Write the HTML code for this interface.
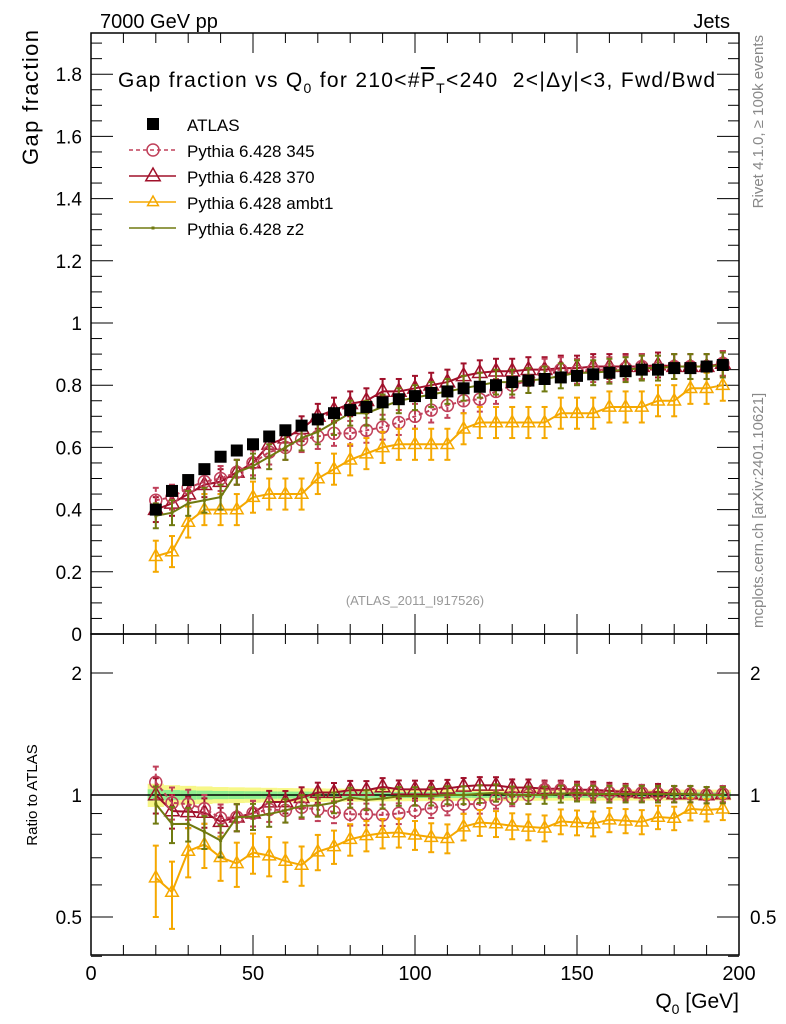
<!DOCTYPE html>
<html><head><meta charset="utf-8"><style>
body{margin:0;background:#fff;}
svg{display:block;font-family:"Liberation Sans",sans-serif;}
</style></head><body>
<svg id="c" width="786" height="1024" xmlns="http://www.w3.org/2000/svg">
<text x="100" y="28" font-size="20">7000 GeV pp</text>
<text x="730" y="28" font-size="20" text-anchor="end">Jets</text>
<text x="118" y="87" font-size="21" textLength="597" lengthAdjust="spacing" xml:space="preserve">Gap fraction vs Q<tspan font-size="14" dy="6">0</tspan><tspan dy="-6"> for 210&lt;#</tspan><tspan text-decoration="overline">P</tspan><tspan font-size="14" dy="6">T</tspan><tspan dy="-6">&lt;240  2&lt;|Δy|&lt;3, Fwd/Bwd</tspan></text>
<text transform="translate(38,30) rotate(-90)" font-size="22" textLength="135" text-anchor="end">Gap fraction</text>
<text transform="translate(37,795) rotate(-90)" font-size="15" text-anchor="middle">Ratio to ATLAS</text>
<text x="739" y="1008" font-size="21" text-anchor="end">Q<tspan font-size="14" dy="6">0</tspan><tspan dy="-6"> [GeV]</tspan></text>
<text transform="translate(763,35) rotate(-90)" font-size="15" fill="#888" text-anchor="end">Rivet 4.1.0, ≥ 100k events</text>
<text transform="translate(763,628) rotate(-90)" font-size="15" fill="#888">mcplots.cern.ch [arXiv:2401.10621]</text>
<text x="415" y="605" font-size="13" fill="#999" text-anchor="middle">(ATLAS_2011_I917526)</text>
<g id="plot"></g>
<g id="legend"></g>
</svg>
<script>
const xs=[20,25,30,35,40,45,50,55,60,65,70,75,80,85,90,95,100,105,110,115,120,125,130,135,140,145,150,155,160,165,170,175,180,185,190,195];
const atlas=[0.40,0.46,0.495,0.53,0.57,0.59,0.61,0.635,0.655,0.67,0.69,0.71,0.72,0.73,0.745,0.755,0.765,0.775,0.78,0.79,0.795,0.80,0.81,0.815,0.82,0.825,0.83,0.835,0.84,0.845,0.85,0.85,0.855,0.855,0.86,0.865];
const p345=[0.43,0.44,0.47,0.49,0.50,0.52,0.55,0.585,0.60,0.625,0.635,0.645,0.645,0.655,0.665,0.68,0.70,0.72,0.735,0.75,0.755,0.78,0.80,0.815,0.845,0.85,0.845,0.85,0.85,0.855,0.86,0.855,0.86,0.86,0.86,0.87];
const p370=[0.40,0.42,0.45,0.48,0.49,0.52,0.55,0.61,0.63,0.66,0.70,0.72,0.74,0.75,0.78,0.78,0.79,0.80,0.81,0.83,0.84,0.845,0.845,0.85,0.85,0.855,0.855,0.86,0.86,0.86,0.86,0.865,0.86,0.86,0.86,0.87];
const ambt1=[0.25,0.265,0.36,0.40,0.40,0.40,0.44,0.45,0.45,0.45,0.50,0.53,0.56,0.58,0.60,0.61,0.61,0.61,0.61,0.66,0.68,0.68,0.68,0.68,0.68,0.71,0.71,0.71,0.73,0.73,0.73,0.75,0.75,0.79,0.79,0.80];
const z2=[0.38,0.39,0.42,0.43,0.44,0.52,0.54,0.57,0.60,0.63,0.65,0.68,0.71,0.71,0.73,0.75,0.76,0.77,0.78,0.79,0.80,0.81,0.81,0.815,0.82,0.83,0.84,0.84,0.845,0.85,0.855,0.855,0.86,0.86,0.86,0.865];
const mcErr=0.04, ambtErr=0.05, dataErr=0.012;
const xTicks=[0,50,100,150,200];
const yTicks=[0,0.2,0.4,0.6,0.8,1,1.2,1.4,1.6,1.8];
const rTicks=[0.5,1,2];

const NS="http://www.w3.org/2000/svg";
const L=91,R=739,T=33,MB=634,RB=955;
const X=v=>L+(R-L)*v/200;
const Y=v=>634-311*v;
const RY=v=>795-122*Math.log2(v);
const g=document.getElementById('plot');
function el(t,a,p){const e=document.createElementNS(NS,t);for(const k in a)e.setAttribute(k,a[k]);(p||g).appendChild(e);return e;}

for(let i=0;i<xs.length;i++){
  const x0=X(xs[i]-2.5),w=X(5)-X(0);
  const rel=dataErr/atlas[i];
  const yb=el('rect',{x:x0,y:RY(1+2.2*rel),width:w,height:RY(1-2.2*rel)-RY(1+2.2*rel),fill:'#f5f56a',opacity:0.8});
  
  
  const gb=el('rect',{x:x0,y:RY(1+1.1*rel),width:w,height:RY(1-1.1*rel)-RY(1+1.1*rel),fill:'#8eee8e'});
  
  
}
const one=el('line',{x1:L,x2:R,y1:RY(1),y2:RY(1),stroke:'#000','stroke-width':1.5});



el('rect',{x:L,y:T,width:R-L,height:MB-T,fill:'none',stroke:'#000','stroke-width':1.5});
el('rect',{x:L,y:MB,width:R-L,height:RB-MB,fill:'none',stroke:'#000','stroke-width':1.5});
for(let v=0;v<=200;v+=10){
  const big=v%50===0,len=big?20:10;
  el('line',{x1:X(v),x2:X(v),y1:MB,y2:MB-len,stroke:'#000'});
  el('line',{x1:X(v),x2:X(v),y1:T,y2:T+len,stroke:'#000'});
  el('line',{x1:X(v),x2:X(v),y1:RB,y2:RB-len,stroke:'#000'});
  el('line',{x1:X(v),x2:X(v),y1:MB,y2:MB+len,stroke:'#000'});
}
xTicks.forEach(v=>{const t=el('text',{x:X(v),y:980,'font-size':20,'text-anchor':'middle'});t.textContent=v;

});
for(let k=0;k<=38;k++){const v=k*0.05;const y=Y(v);if(y<T)continue;const big=k%4===0,len=big?22:11;
  el('line',{x1:L,x2:L+len,y1:y,y2:y,stroke:'#000'});el('line',{x1:R,x2:R-len,y1:y,y2:y,stroke:'#000'});}
yTicks.forEach(v=>{const t=el('text',{x:82,y:Y(v)+7,'font-size':19,'text-anchor':'end'});t.textContent=v;

});
[0.4,0.5,0.6,0.7,0.8,0.9,1,2].forEach(v=>{const y=RY(v);const big=rTicks.includes(v),len=big?22:11;
  el('line',{x1:L,x2:L+len,y1:y,y2:y,stroke:'#000'});el('line',{x1:R,x2:R-len,y1:y,y2:y,stroke:'#000'});});
rTicks.forEach(v=>{[[82,'end'],[750,'start']].forEach(([x,a])=>{const t=el('text',{x:x,y:RY(v)+7,'font-size':19,'text-anchor':a});t.textContent=v;

});});

function marker(type,x,y,col,s,par){
  if(type==='circle')el('circle',{cx:x,cy:y,r:s,fill:'none',stroke:col,'stroke-width':1.5},par);
  else if(type==='tri')el('polygon',{points:`${x},${y-s} ${x-s*0.9},${y+s*0.6} ${x+s*0.9},${y+s*0.6}`,fill:'none',stroke:col,'stroke-width':1.5},par);
  else if(type==='dot')el('rect',{x:x-1.5,y:y-1.5,width:3,height:3,fill:col},par);
  else if(type==='sq')el('rect',{x:x-s,y:y-s,width:2*s,height:2*s,fill:col},par);
}
function series(name,vals,err,col,type,s,dash){
  const grp=el('g',{});
  
  
  const ratio=vals.map((v,i)=>v/atlas[i]);
  [[vals,Y,err],[ratio,RY,null]].forEach(([arr,fy,e])=>{
    let d='';arr.forEach((v,i)=>{d+=(i?'L':'M')+X(xs[i])+','+fy(v);});
    el('path',{d:d,fill:'none',stroke:col,'stroke-width':2,'stroke-dasharray':dash||''},grp);
    arr.forEach((v,i)=>{const x=X(xs[i]);const ee=e!==null?e:err/atlas[i];
      const y1=e!==null?Y(v+ee):RY(v+ee),y2=e!==null?Y(v-ee):RY(v-ee);
      el('line',{x1:x,x2:x,y1:y1,y2:y2,stroke:col,'stroke-width':2,'stroke-dasharray':dash||''},grp);
      el('line',{x1:x-3,x2:x+3,y1:y1,y2:y1,stroke:col,'stroke-width':2},grp);
      el('line',{x1:x-3,x2:x+3,y1:y2,y2:y2,stroke:col,'stroke-width':2},grp);
      marker(type,x,fy(v),col,s,grp);});
  });
}
series('pythia-370',p370,mcErr,'#a0102a','tri',8);
series('pythia-345',p345,mcErr,'#c0405a','circle',6,'4,3');
series('pythia-ambt1',ambt1,ambtErr,'#f5a800','tri',7);
series('pythia-z2',z2,mcErr,'#707a10','dot',2);
const ag=el('g',{});


atlas.forEach((v,i)=>{marker('sq',X(xs[i]),Y(v),'#000',6,ag);});

const lg=document.getElementById('legend');
const items=[['ATLAS','sq','#000',''],['Pythia 6.428 345','circle','#c0405a','4,3'],['Pythia 6.428 370','tri','#a0102a',''],['Pythia 6.428 ambt1','tri','#f5a800',''],['Pythia 6.428 z2','dot','#707a10','']];
items.forEach((it,k)=>{const y=124+26*k;const gg=el('g',{},lg);
  
  
  if(k>0)el('line',{x1:129,x2:176,y1:y,y2:y,stroke:it[2],'stroke-width':1.5,'stroke-dasharray':it[3]},gg);
  marker(it[1],153,y,it[2],it[1]==='sq'?6:(k===2?8:6),gg);
  const t=el('text',{x:187,y:y+7,'font-size':17},gg);t.textContent=it[0];});
</script>
</body></html>
